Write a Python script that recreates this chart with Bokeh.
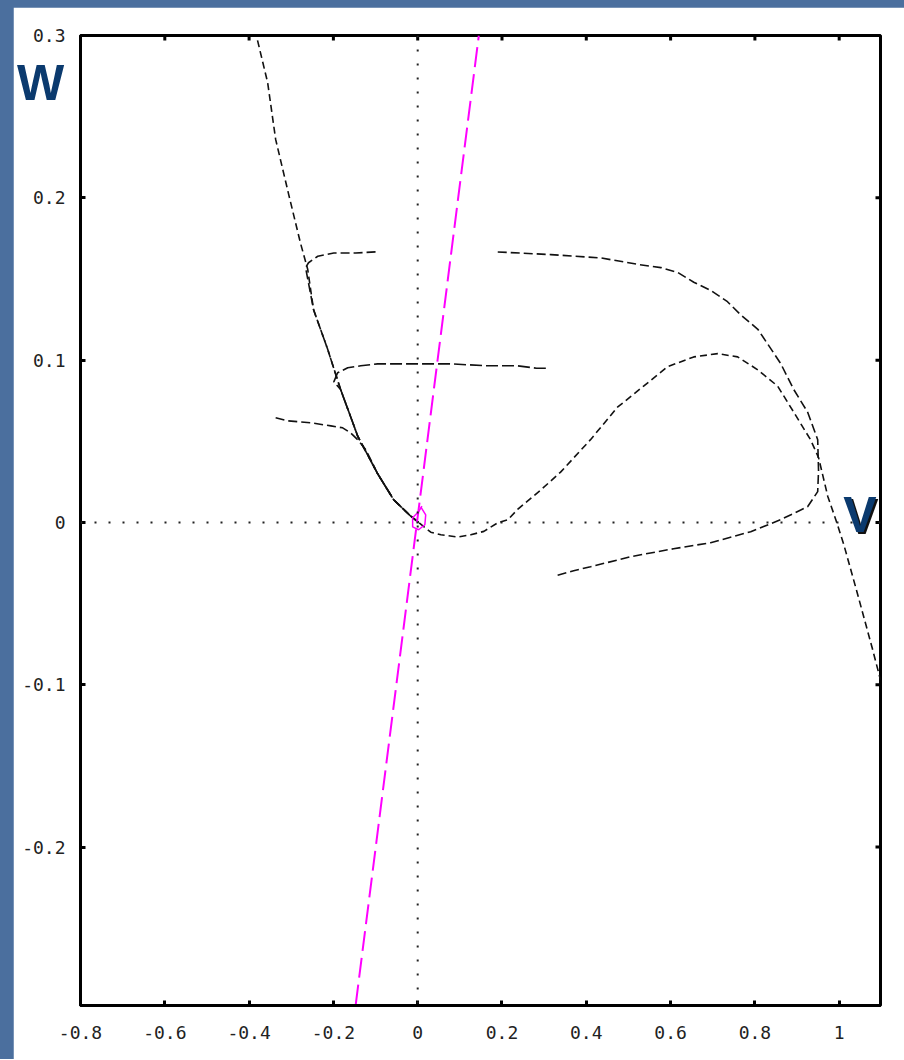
from bokeh.plotting import figure
from bokeh.models import Range1d, FixedTicker, Span, Label
from bokeh.layouts import column
from bokeh.embed import file_html
from bokeh.resources import INLINE
import math

# ---- tick values / labels ----
x_ticks = [-0.8, -0.6, -0.4, -0.2, 0, 0.2, 0.4, 0.6, 0.8, 1]
x_tick_labels = ["-0.8", "-0.6", "-0.4", "-0.2", "0", "0.2", "0.4", "0.6", "0.8", "1"]
y_ticks = [-0.2, -0.1, 0, 0.1, 0.2, 0.3]
y_tick_labels = ["-0.2", "-0.1", "0", "0.1", "0.2", "0.3"]
x_min, x_max = -0.8, 1.098
y_min, y_max = -0.2976, 0.3

# ---- cubic-shaped curve (left branch -> minimum -> peak -> right branch) ----
cubic_v = [-0.380, -0.356, -0.337, -0.306, -0.278, -0.261, -0.247, -0.214, -0.183, -0.142,
           -0.095, -0.057, -0.017, 0.002, 0.031, 0.055, 0.095, 0.126, 0.157, 0.190, 0.214,
           0.237, 0.292, 0.339, 0.410, 0.474, 0.536, 0.593, 0.655, 0.712, 0.759, 0.807,
           0.854, 0.892, 0.932, 0.951, 0.973, 0.992, 1.011, 1.044, 1.079, 1.098]
cubic_w = [0.297, 0.271, 0.236, 0.202, 0.172, 0.156, 0.131, 0.107, 0.082, 0.053,
           0.030, 0.014, 0.004, 0.0, -0.006, -0.0076, -0.009, -0.0076, -0.0055, -0.0002, 0.0017,
           0.008, 0.020, 0.031, 0.051, 0.071, 0.084, 0.096, 0.102, 0.104, 0.102, 0.094,
           0.084, 0.068, 0.051, 0.040, 0.016, 0.0017, -0.0137, -0.0445, -0.078, -0.097]

# ---- big loop trajectory, before the fast jump ----
loop_a_v = [0.332, 0.370, 0.410, 0.505, 0.607, 0.695, 0.790, 0.861, 0.925, 0.949, 0.951,
            0.949, 0.925, 0.892, 0.861, 0.807, 0.766, 0.735, 0.695, 0.655, 0.617, 0.577,
            0.522, 0.434, 0.316, 0.185]
loop_a_w = [-0.0325, -0.0297, -0.0273, -0.0211, -0.0162, -0.0125, -0.0057, 0.0017, 0.0097, 0.019, 0.032,
            0.051, 0.068, 0.082, 0.098, 0.119, 0.128, 0.136, 0.143, 0.148, 0.154, 0.157,
            0.159, 0.163, 0.165, 0.1667]
# ---- big loop trajectory, after the fast jump ----
loop_b_v = [-0.100, -0.147, -0.199, -0.237, -0.259, -0.266, -0.247, -0.214, -0.183, -0.142,
            -0.095, -0.057, -0.017, 0.002]
loop_b_w = [0.1667, 0.166, 0.166, 0.164, 0.160, 0.157, 0.131, 0.107, 0.082, 0.053,
            0.030, 0.014, 0.004, 0.0]

# ---- trajectory starting near w = 0.095 ----
t3_v = [0.304, 0.282, 0.237, 0.166, 0.078, -0.017, -0.095, -0.135, -0.166, -0.190, -0.199,
        -0.183, -0.142, -0.095, -0.057, -0.017, 0.002]
t3_w = [0.095, 0.095, 0.0965, 0.0965, 0.0977, 0.0977, 0.0977, 0.0965, 0.0953, 0.0922, 0.0866,
        0.082, 0.053, 0.030, 0.014, 0.004, 0.0]

# ---- trajectory starting near w = 0.065 ----
t4_v = [-0.337, -0.308, -0.254, -0.206, -0.178, -0.159, -0.142, -0.123, -0.095, -0.057, -0.017, 0.002]
t4_w = [0.0645, 0.0626, 0.0614, 0.0595, 0.0583, 0.0552, 0.0509, 0.0448, 0.030, 0.014, 0.004, 0.0]

# ---- magenta straight nullcline and small loop at origin ----
nc_v = [-0.147, 0.145]
nc_w = [-0.297, 0.300]
spiral_v = [0.007, 0.019, 0.017, 0.002, -0.012, -0.012, 0.002, 0.010]
spiral_w = [0.0097, 0.0047, -0.0014, -0.0045, -0.0027, 0.0029, 0.0066, 0.0100]

p = figure(width=891, height=1052,
           x_range=Range1d(x_min, x_max), y_range=Range1d(y_min, y_max),
           output_backend="svg", toolbar_location=None,
           min_border_left=67, min_border_right=24, min_border_top=28, min_border_bottom=54,
           background_fill_color="white", border_fill_color="white")
p.grid.visible = False
p.outline_line_color = "black"
p.outline_line_width = 3

xax = p.xaxis[0]
yax = p.yaxis[0]
xax.ticker = FixedTicker(ticks=x_ticks)
xax.major_label_overrides = {t: s for t, s in zip(x_ticks, x_tick_labels)}
xax.major_label_standoff = 20
yax.ticker = FixedTicker(ticks=y_ticks)
yax.major_label_overrides = {t: s for t, s in zip(y_ticks, y_tick_labels)}
yax.major_label_standoff = 15
for ax in [xax, yax]:
    ax.axis_line_color = "black"
    ax.axis_line_width = 3
    ax.major_tick_in = 5
    ax.major_tick_out = 0
    ax.major_tick_line_width = 3
    ax.major_tick_line_color = "black"
    ax.minor_tick_line_color = None
    ax.major_label_text_font = "DejaVu Sans Mono"
    ax.major_label_text_color = "#222222"
    ax.major_label_text_font_size = "18px"

# "W" (slide text) as the horizontal label of the w axis, near the top
yax.axis_label = "\n\nW"
yax.axis_label_text_font = "Liberation Sans"
yax.axis_label_text_font_style = "bold"
yax.axis_label_text_font_size = "50px"
yax.axis_label_text_line_height = 0.85
yax.axis_label_text_color = "#0b3a6e"
yax.axis_label_standoff = -45
yax.axis_label_orientation = "horizontal"
try:
    yax.axis_label_align = "end"
except Exception:
    pass

# inward ticks on the top and right edges of the frame (half of each dash is clipped)
p.scatter(x_ticks, [y_max] * len(x_ticks), marker="dash", size=10, angle=math.pi / 2,
          line_color="black", line_width=3)
p.scatter([x_max] * len(y_ticks), y_ticks, marker="dash", size=10,
          line_color="black", line_width=3)

# dotted zero lines
p.add_layout(Span(location=0, dimension="height", line_color="#222222", line_width=2, line_dash="2 12"))
p.add_layout(Span(location=0, dimension="width", line_color="#222222", line_width=2, line_dash="2 12"))

black = "#111111"
p.line(cubic_v, cubic_w, line_color=black, line_width=1.6, line_dash="7 4")
p.line(loop_a_v, loop_a_w, line_color=black, line_width=1.6, line_dash="9 4")
p.line(loop_b_v, loop_b_w, line_color=black, line_width=1.6, line_dash="9 4")
p.line(t3_v, t3_w, line_color=black, line_width=1.6, line_dash="12 4")
p.line(t4_v, t4_w, line_color=black, line_width=1.6, line_dash="9 4")

p.line(nc_v, nc_w, line_color="#ff00ff", line_width=2, line_dash="20 7")
p.line(spiral_v, spiral_w, line_color="#ff00ff", line_width=1.5)

# slide label "V" (with a dark shadow)
p.add_layout(Label(x=1.049, y=0.0047, text="V", text_font="Liberation Sans", text_font_style="bold",
                   text_font_size="50px", text_color="#111111", text_align="center",
                   text_baseline="alphabetic", x_offset=2, y_offset=-2))
p.add_layout(Label(x=1.049, y=0.0047, text="V", text_font="Liberation Sans", text_font_style="bold",
                   text_font_size="50px", text_color="#0b3a6e", text_align="center",
                   text_baseline="alphabetic"))

layout = column(p, styles={"background-color": "#4b6f9e", "padding-left": "13px", "padding-top": "7px"})

open("out.html", "w").write(file_html(layout, INLINE))
